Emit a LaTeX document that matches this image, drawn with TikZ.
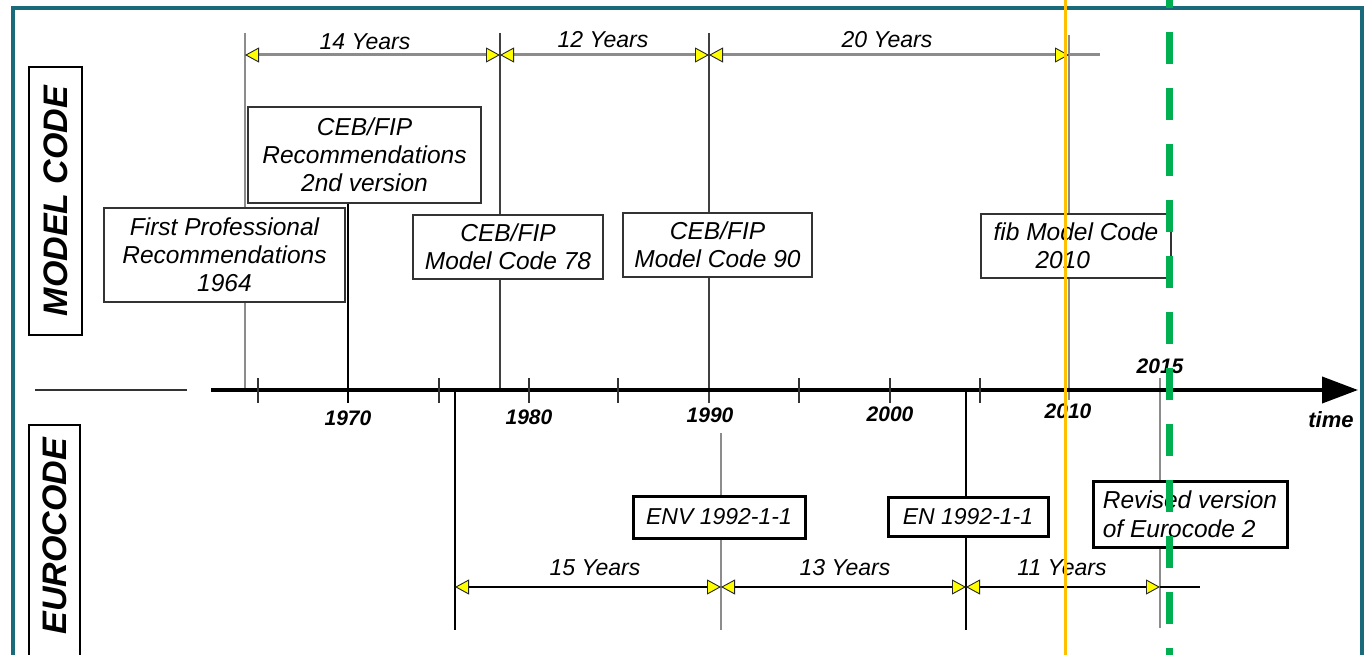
\documentclass[tikz,border=0pt]{standalone}
\usepackage{fontspec}
\setmainfont{Liberation Sans}
\usetikzlibrary{arrows.meta}
\definecolor{frameteal}{HTML}{1B6A7B}
\definecolor{orangeln}{HTML}{FFC000}
\definecolor{greenln}{HTML}{00B050}
\definecolor{tipyellow}{HTML}{FFFF00}
\begin{document}
\begin{tikzpicture}[x=1pt,y=-1pt,
  yt/.tip={Triangle[length=14pt,width=15pt,color=black!85,fill=tipyellow,line width=0.9pt]},
  box/.style={draw=black!80, line width=1.4pt, fill=white, inner sep=0pt, align=center,
    font=\fontsize{24.5}{28}\selectfont\itshape, text=black},
  ebox/.style={draw=black, line width=3pt, fill=white, inner sep=0pt, align=center,
    font=\fontsize{23}{29}\selectfont\itshape, text=black},
  sidebox/.style={draw=black, line width=2pt, inner sep=0pt, rotate=90,
    font=\fontsize{34}{34}\selectfont\bfseries\itshape},
  sidetext/.style={inner sep=0pt, rotate=90, font=\fontsize{34}{34}\selectfont\bfseries\itshape},
  dimlab/.style={inner sep=0pt, font=\fontsize{23}{23}\selectfont\itshape, text=black},
  yearlab/.style={inner sep=0pt, font=\fontsize{21}{21}\selectfont\bfseries\itshape, text=black},
  vline/.style={draw=black!75, line width=1.6pt},
  dline/.style={draw=black, line width=1.6pt},
  gline/.style={draw=black!45, line width=2.5pt},
  tick/.style={draw=black!80, line width=1.4pt},
  topdim/.style={draw=black!45, line width=3pt, yt-yt},
  botdim/.style={draw=black, line width=1.6pt, yt-yt},
]
\useasboundingbox (0,0) rectangle (1368,655);
\fill[white] (0,0) rectangle (1368,655);

% frame
\draw[frameteal, line width=3.5pt] (13,8) rectangle (1362,700);

% side labels
\node[sidebox, minimum width=268pt, minimum height=53pt] (mc) at (55.5,201) {MODEL CODE};
\node[sidetext] (ec) at (54.5,536) {EUROCODE};
\draw[black, line width=2pt] (29,662) -- (29,425) -- (80,425) -- (80,662);

% coordinates
\coordinate (t64) at (245,33);   \coordinate (a64) at (245,390);
\coordinate (t78) at (500,33);   \coordinate (a78) at (500,390);
\coordinate (t90) at (709,33);   \coordinate (a90) at (709,403);
\coordinate (t10) at (1069,35);  \coordinate (a10) at (1069,400);
\coordinate (c70) at (348,403);
\coordinate (e76t) at (455,390); \coordinate (e76b) at (455,630);
\coordinate (e91t) at (721,433); \coordinate (e91b) at (721,630);
\coordinate (e04t) at (966,390); \coordinate (e04b) at (966,630);
\coordinate (e15t) at (1160,378);\coordinate (e15b) at (1160,628);

% vertical lines (upper)
\draw[gline] (t64) -- (a64);
\draw[vline] (t78) -- (a78);
\draw[vline] (t90) -- (a90);
\draw[gline] (t10) -- (a10);
% vertical lines (lower)
\draw[dline] (e76t) -- (e76b);
\draw[gline, line width=2pt] (e91t) -- (e91b);
\draw[dline] (e04t) -- (e04b);
\draw[gline, line width=2.5pt] (e15t) -- (e15b);

% upper boxes
\node[box, minimum width=233pt, minimum height=96pt] (second) at (364.5,155) {CEB/FIP\\Recommendations\\2nd version};
\draw[dline] (second.south -| c70) -- (c70);
\node[box, minimum width=241pt, minimum height=94pt] (first) at (224.5,255) {First Professional\\Recommendations\\1964};
\node[box, minimum width=190pt, minimum height=64pt] (mc78) at (508,247) {CEB/FIP\\Model Code 78};
\node[box, minimum width=189pt, minimum height=64pt] (mc90) at (717.5,245) {CEB/FIP\\Model Code 90};
\node[box, minimum width=190pt, minimum height=64pt, align=left] (fib) at (1076,246) {fib Model Code\\\hspace*{42pt}2010};

% lower boxes
\node[ebox, minimum width=172pt, minimum height=42pt] (env) at (719,517) {ENV 1992-1-1};
\node[ebox, minimum width=160pt, minimum height=39pt] (en) at (968,516.5) {EN 1992-1-1};
\node[ebox, minimum width=194pt, minimum height=66pt, align=left,
      font=\fontsize{24.5}{29}\selectfont\itshape] (rev) at (1190,514) {Revised version\\of Eurocode 2};

% top dimension line
\coordinate (d1) at (245,55); \coordinate (d2) at (500,55);
\coordinate (d3) at (709,55); \coordinate (d4) at (1069,55);
\coordinate (d5) at (1100,55);
\draw[draw=black!45, line width=3pt] (d4) -- (d5);
\draw[topdim] (d1) -- (d2);
\draw[topdim] (d2) -- (d3);
\draw[topdim] (d3) -- (d4);
\node[dimlab] (l14) at (365,42) {14 Years};
\node[dimlab] (l12) at (603,40) {12 Years};
\node[dimlab] (l20) at (887,40) {20 Years};

% bottom dimension line
\coordinate (b1) at (455,587); \coordinate (b2) at (721,587);
\coordinate (b3) at (966,587); \coordinate (b4) at (1160,587);
\coordinate (b5) at (1200,587);
\draw[black, line width=1.6pt] (b4) -- (b5);
\draw[botdim] (b1) -- (b2);
\draw[botdim] (b2) -- (b3);
\draw[botdim] (b3) -- (b4);
\node[dimlab] (l15) at (595,568) {15 Years};
\node[dimlab] (l13) at (845,568) {13 Years};
\node[dimlab] (l11) at (1062,568) {11 Years};

% time axis
\coordinate (sl1) at (35,390); \coordinate (sl2) at (187,390);
\draw[black!80, line width=1.8pt] (sl1) -- (sl2);
\coordinate (axs) at (211,390); \coordinate (axe) at (1358,390);
\draw[black, line width=4pt, -{Triangle[length=36pt,width=26pt]}] (axs) -- (axe);
\foreach \x in {258,439,529,618,799,890,980}
  \draw[tick] (\x,378) -- (\x,403);

% year labels
\node[yearlab] (y70) at (348,418) {1970};
\node[yearlab] (y80) at (529,417) {1980};
\node[yearlab] (y90) at (710,415) {1990};
\node[yearlab] (y00) at (890,414) {2000};
\node[yearlab] (y10) at (1068,411) {2010};
\node[yearlab] (y15) at (1160,366) {2015};
\node[yearlab, font=\fontsize{22}{22}\selectfont\bfseries\itshape] (tm) at (1331,420) {time};

% overlay lines
\coordinate (or1) at (1065,0); \coordinate (or2) at (1065,655);
\draw[orangeln, line width=3pt] (or1) -- (or2);
\coordinate (gr1) at (1169,-24); \coordinate (gr2) at (1169,680);
\draw[greenln, line width=7pt, dash pattern=on 32pt off 24pt] (gr1) -- (gr2);
\end{tikzpicture}
\end{document}
